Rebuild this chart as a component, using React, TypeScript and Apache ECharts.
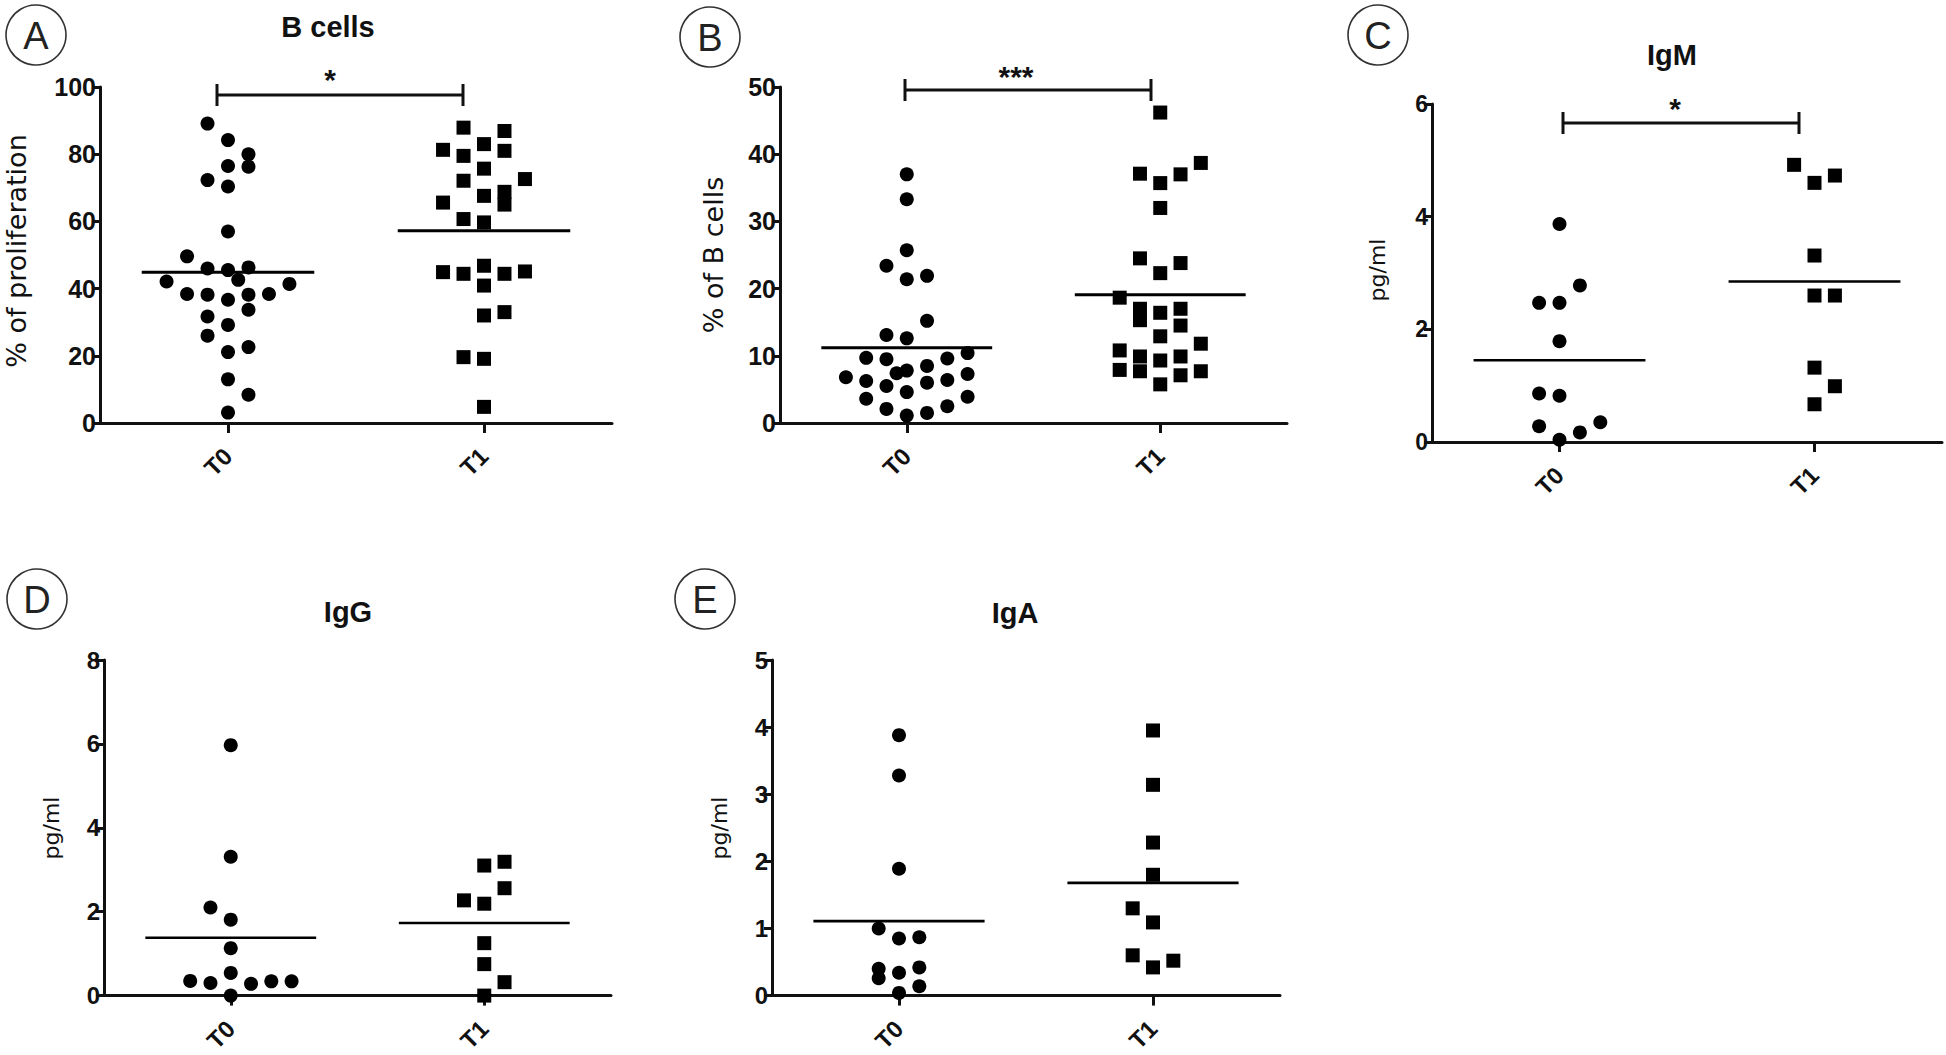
import React, { useEffect, useRef } from "react";
import * as echarts from "echarts";

// ---------- DATA (each point: [jitter column, value]) ----------
const categories = ["T0", "T1"];

const bCellsProlifT0 = [[-1, 89.1], [0, 84.2], [1, 80.0], [1, 76.3], [0, 76.5], [-1, 72.3], [0, 70.4], [0, 57.0], [-2, 49.6], [-1, 46.0], [0, 45.5], [1, 46.3], [0.5, 42.6], [-3, 42.1], [3, 41.4], [-2, 38.4], [-1, 38.2], [0, 36.7], [1, 38.2], [2, 38.4], [1, 33.7], [-1, 31.7], [0, 29.2], [-1, 26.0], [0, 21.1], [1, 22.6], [0, 13.0], [1, 8.4], [0, 3.1]];
const bCellsProlifT1 = [[-1, 87.9], [1, 86.9], [-2, 81.3], [0, 83.0], [1, 81.0], [-1, 79.5], [0, 75.7], [2, 72.6], [-1, 72.1], [0, 67.6], [1, 68.8], [1, 65.0], [-2, 65.6], [-1, 60.7], [0, 59.7], [-2, 44.9], [-1, 44.4], [0, 46.8], [1, 44.4], [2, 45.1], [0, 40.9], [0, 32.0], [1, 33.0], [-1, 19.6], [0, 19.1], [0, 4.8]];
const bCellsProlifMeans = [44.9, 57.2];

const bCellsPctT0 = [[0, 37.0], [0, 33.3], [0, 25.7], [-1, 23.4], [0, 21.4], [1, 21.9], [1, 15.2], [-1, 13.1], [0, 12.6], [-2, 9.7], [-1, 9.5], [2, 9.6], [3, 10.4], [-3, 6.8], [-2, 6.25], [-0.5, 7.4], [0, 7.8], [1, 8.5], [2, 6.4], [3, 7.3], [-1, 5.5], [0, 4.6], [1, 6.0], [-2, 3.6], [3, 3.9], [-1, 2.1], [2, 2.5], [0, 1.1], [1, 1.5]];
const bCellsPctT1 = [[0, 46.2], [2, 38.7], [-1, 37.1], [1, 37.0], [0, 35.7], [0, 32.0], [-1, 24.5], [1, 23.8], [0, 22.3], [-2, 18.65], [-1, 17.0], [-1, 15.3], [0, 16.4], [1, 17.0], [1, 14.5], [0, 12.9], [2, 11.8], [-2, 10.8], [-1, 9.9], [0, 9.3], [1, 9.9], [-2, 7.9], [-1, 7.7], [1, 7.1], [2, 7.7], [0, 5.75]];
const bCellsPctMeans = [11.2, 19.1];

const igmT0 = [[0, 3.87], [1, 2.78], [-1, 2.47], [0, 2.47], [0, 1.79], [-1, 0.86], [0, 0.82], [-1, 0.28], [2, 0.35], [1, 0.17], [0, 0.04]];
const igmT1 = [[-1, 4.92], [1, 4.73], [0, 4.6], [0, 3.31], [0, 2.6], [1, 2.6], [0, 1.32], [1, 0.99], [0, 0.67]];
const igmMeans = [1.45, 2.85];

const iggT0 = [[0, 5.97], [0, 3.31], [-1, 2.1], [0, 1.81], [0, 1.13], [0, 0.54], [-2, 0.35], [-1, 0.3], [1, 0.28], [2, 0.34], [3, 0.34], [0, 0]];
const iggT1 = [[1, 3.19], [0, 3.1], [1, 2.56], [-1, 2.27], [0, 2.19], [0, 1.25], [0, 0.75], [1, 0.32], [0, 0]];
const iggMeans = [1.38, 1.73];

const igaT0 = [[0, 3.88], [0, 3.28], [0, 1.89], [-1, 1.0], [0, 0.85], [1, 0.87], [-1, 0.4], [-1, 0.26], [0, 0.34], [1, 0.42], [1, 0.14], [0, 0.04]];
const igaT1 = [[0, 3.95], [0, 3.14], [0, 2.28], [0, 1.8], [-1, 1.3], [0, 1.09], [-1, 0.6], [1, 0.52], [0, 0.42]];
const igaMeans = [1.11, 1.68];

const yTicksA = { max: 100, interval: 20 };
const yTicksB = { max: 50, interval: 10 };
const yTicksC = { max: 6, interval: 2 };
const yTicksD = { max: 8, interval: 2 };
const yTicksE = { max: 5, interval: 1 };

// ---------- LAYOUT ----------
const COL_STEP = 0.08; // jitter column width in category units
const MEAN_HALF = 0.337;
const INK = "#111";
const LABEL_FONT = "'DejaVu Sans', sans-serif";
const TICK_FONT = "'Liberation Sans', Arial, sans-serif";

const panels = [
  { letter: "A", title: "B cells", yName: "% of proliferation", t0: bCellsProlifT0, t1: bCellsProlifT1, means: bCellsProlifMeans, ticks: yTicksA,
    grid: { left: 100, top: 87, width: 512, height: 336 }, ring: [36, 35], titlePos: [328, 27], yNamePos: [16, 251], yNameSize: 27, labelSize: 25,
    bracket: { x1: 217, x2: 463, y: 95, stars: "*", starX: 330, starY: 79 } },
  { letter: "B", title: "", yName: "% of B cells", t0: bCellsPctT0, t1: bCellsPctT1, means: bCellsPctMeans, ticks: yTicksB,
    grid: { left: 780, top: 87, width: 507, height: 336 }, ring: [710, 37], titlePos: [0, 0], yNamePos: [713, 255], yNameSize: 27, labelSize: 25,
    bracket: { x1: 905, x2: 1151, y: 90, stars: "***", starX: 1016, starY: 76 } },
  { letter: "C", title: "IgM", yName: "pg/ml", t0: igmT0, t1: igmT1, means: igmMeans, ticks: yTicksC,
    grid: { left: 1432, top: 104, width: 510, height: 338 }, ring: [1378, 35], titlePos: [1672, 55], yNamePos: [1377, 270], yNameSize: 22, labelSize: 23,
    bracket: { x1: 1563, x2: 1799, y: 123, stars: "*", starX: 1675, starY: 108 } },
  { letter: "D", title: "IgG", yName: "pg/ml", t0: iggT0, t1: iggT1, means: iggMeans, ticks: yTicksD,
    grid: { left: 104, top: 660, width: 507, height: 339 }, ring: [37, 599], titlePos: [348, 612], yNamePos: [51, 828], yNameSize: 22, labelSize: 24,
    bracket: null },
  { letter: "E", title: "IgA", yName: "pg/ml", t0: igaT0, t1: igaT1, means: igaMeans, ticks: yTicksE,
    grid: { left: 772, top: 660, width: 508, height: 339 }, ring: [705, 599], titlePos: [1015, 613], yNamePos: [719, 828], yNameSize: 22, labelSize: 24,
    bracket: null },
];

function buildOption() {
  const grid: any[] = [];
  const xAxis: any[] = [];
  const yAxis: any[] = [];
  const series: any[] = [];
  const graphic: any[] = [];

  panels.forEach((p, i) => {
    grid.push({ ...p.grid, containLabel: false });
    xAxis.push({
      type: "category", gridIndex: i, data: categories, boundaryGap: true,
      axisLine: { show: true, onZero: false, lineStyle: { color: INK, width: 3 } },
      axisTick: { show: true, alignWithLabel: true, length: 10, inside: false, lineStyle: { color: INK, width: 3 } },
      axisLabel: { rotate: 45, margin: 29, fontSize: 24, fontWeight: "bold", color: INK, fontFamily: TICK_FONT },
      splitLine: { show: false },
    });
    xAxis.push({ type: "value", gridIndex: i, min: -0.5, max: 1.5, show: false, splitLine: { show: false } });
    yAxis.push({
      type: "value", gridIndex: i, min: 0, max: p.ticks.max, interval: p.ticks.interval,
      axisLine: { show: true, onZero: false, lineStyle: { color: INK, width: 3 } },
      axisTick: { show: true, length: 8, lineStyle: { color: INK, width: 3 } },
      axisLabel: { fontSize: p.labelSize, fontWeight: "bold", color: INK, margin: 4, fontFamily: TICK_FONT },
      splitLine: { show: false },
    });
    const toXY = (cat: number) => (d: number[]) => [cat + d[0] * COL_STEP, d[1]];
    series.push({ type: "scatter", xAxisIndex: 2 * i + 1, yAxisIndex: i, symbol: "circle", symbolSize: 14, clip: false,
      itemStyle: { color: "#000", opacity: 1 }, data: p.t0.map(toXY(0)), z: 3 });
    series.push({ type: "scatter", xAxisIndex: 2 * i + 1, yAxisIndex: i, symbol: "rect", symbolSize: 14, clip: false,
      itemStyle: { color: "#000", opacity: 1 }, data: p.t1.map(toXY(1)), z: 3 });
    p.means.forEach((m, c) => {
      series.push({ type: "line", xAxisIndex: 2 * i + 1, yAxisIndex: i, symbol: "none", clip: false,
        lineStyle: { color: "#000", width: i < 2 ? 3 : 2.6 },
        data: [[c - MEAN_HALF, m], [c + MEAN_HALF, m]], z: 4 });
    });

    // ring + letter
    graphic.push({ type: "circle", shape: { cx: p.ring[0], cy: p.ring[1], r: 30 }, style: { fill: "none", stroke: "#333", lineWidth: 1.6 } });
    graphic.push({ type: "text", x: p.ring[0], y: p.ring[1] + 1, style: { text: p.letter, font: `38px ${TICK_FONT}`, fill: "#222", align: "center", verticalAlign: "middle" } });
    if (p.title) {
      graphic.push({ type: "text", x: p.titlePos[0], y: p.titlePos[1], style: { text: p.title, font: `bold 29px ${TICK_FONT}`, fill: INK, align: "center", verticalAlign: "middle" } });
    }
    graphic.push({ type: "text", x: p.yNamePos[0], y: p.yNamePos[1], rotation: Math.PI / 2,
      style: { text: p.yName, font: `${p.yNameSize}px ${LABEL_FONT}`, fill: INK, align: "center", verticalAlign: "middle" } });
    if (p.bracket) {
      const b = p.bracket;
      const ls = { stroke: INK, lineWidth: 3 };
      graphic.push({ type: "line", shape: { x1: b.x1, y1: b.y, x2: b.x2, y2: b.y }, style: ls });
      graphic.push({ type: "line", shape: { x1: b.x1, y1: b.y - 11, x2: b.x1, y2: b.y + 11 }, style: ls });
      graphic.push({ type: "line", shape: { x1: b.x2, y1: b.y - 11, x2: b.x2, y2: b.y + 11 }, style: ls });
      graphic.push({ type: "text", x: b.starX, y: b.starY, style: { text: b.stars, font: `bold 30px ${TICK_FONT}`, fill: INK, align: "center", verticalAlign: "middle" } });
    }
  });

  return { animation: false, backgroundColor: "#fff", grid, xAxis, yAxis, series, graphic };
}

export default function App() {
  const ref = useRef<HTMLDivElement>(null);
  useEffect(() => {
    if (!ref.current) return;
    const chart = echarts.init(ref.current, undefined, { renderer: "svg" });
    chart.setOption(buildOption() as any);
    return () => chart.dispose();
  }, []);
  return <div ref={ref} style={{ position: "fixed", left: 0, top: 0, width: 1946, height: 1055, background: "#fff" }} />;
}
